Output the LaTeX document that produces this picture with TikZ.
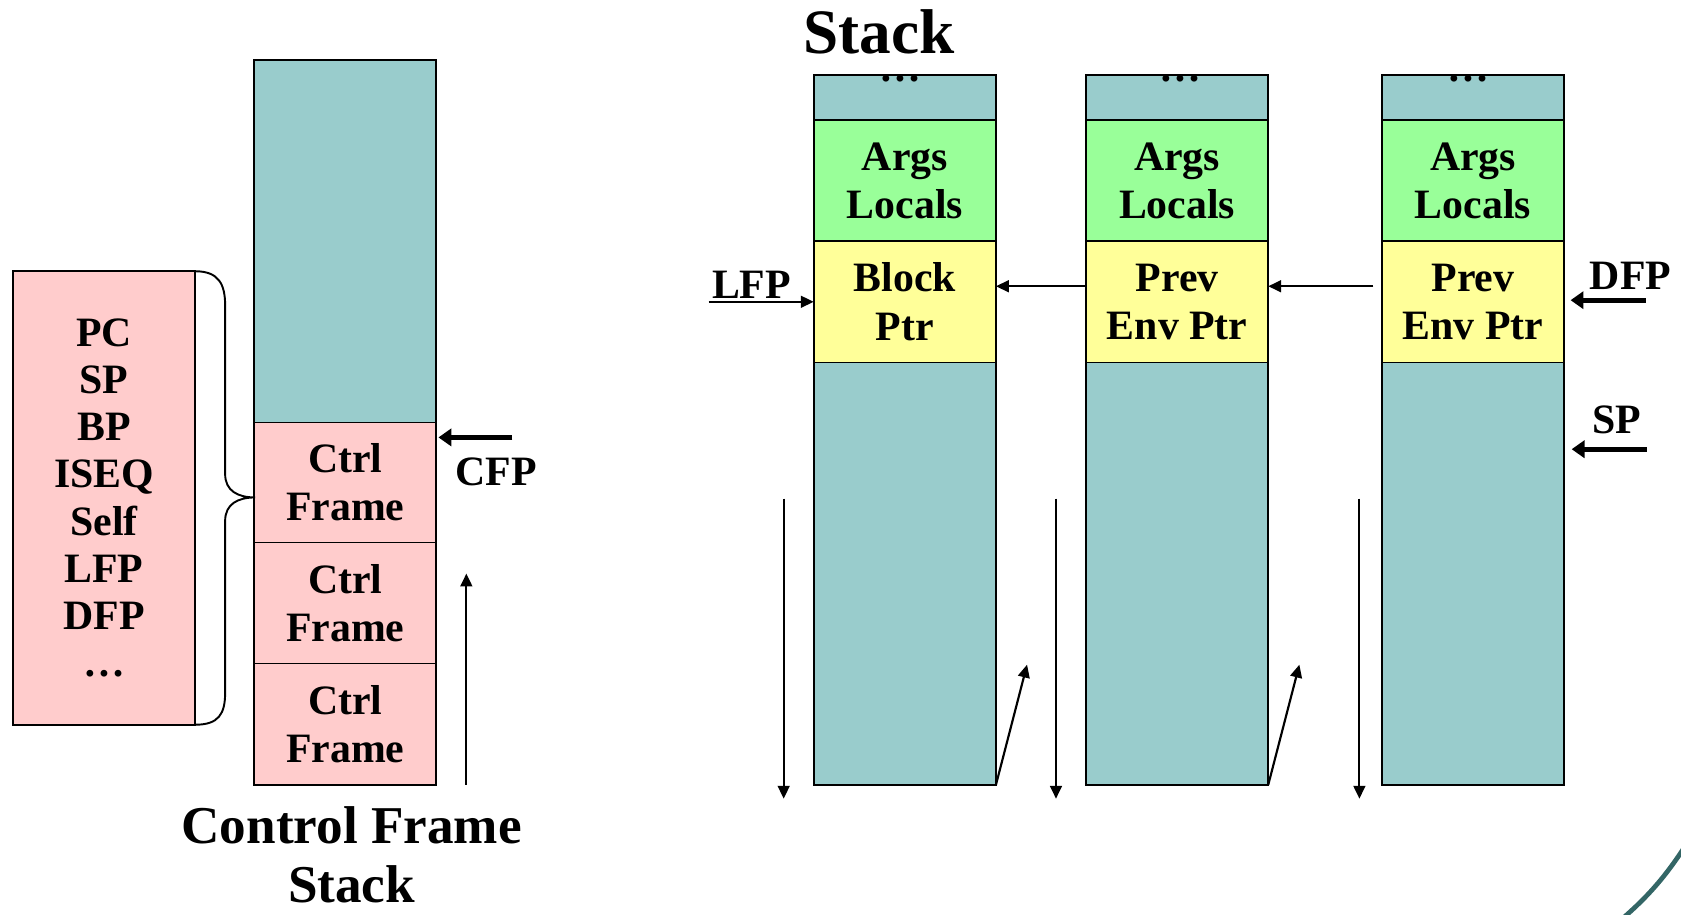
\documentclass[tikz,border=0pt]{standalone}
\usepackage{fontspec}
\setmainfont{Liberation Serif}
\usetikzlibrary{arrows.meta}
\definecolor{tealc}{RGB}{153,204,204}
\definecolor{pinkc}{RGB}{255,204,204}
\definecolor{greenc}{RGB}{153,255,153}
\definecolor{yellowc}{RGB}{255,255,153}
\definecolor{arcc}{RGB}{51,102,102}
\begin{document}
\begin{tikzpicture}[x=0.5pt,y=-0.5pt,
 cell/.style={draw=black, line width=0.8pt, minimum width=85pt, inner sep=0pt, outer sep=0pt, align=center, font=\fontsize{19.5}{22.5}\selectfont\bfseries},
 lbl/.style={font=\fontsize{19.5}{22.5}\selectfont\bfseries, inner sep=0pt},
 dots/.style={lbl, anchor=base, text height=2.4pt, text depth=0pt},
 thinarrow/.style={line width=1pt, -{Triangle[length=6pt,width=5.5pt]}},
 thickarrow/.style={line width=2.2pt, -{Triangle[length=6pt,width=8pt]}}]
\useasboundingbox (0,0) rectangle (1568,853);

% ---------- left: control frame stack ----------
\node[cell, fill=pinkc, minimum height=211.5pt, font=\fontsize{19.5}{22}\selectfont\bfseries] (regs) at (97,464.5) {PC\\SP\\BP\\ISEQ\\Self\\LFP\\DFP\\…};
\node[cell, fill=tealc, minimum height=169pt] (cfs) at (322,225) {};
\node[cell, fill=pinkc, minimum height=56pt] (cf1) at (322,450) {Ctrl\\Frame};
\node[cell, fill=pinkc, minimum height=56.5pt] (cf2) at (322,562.5) {Ctrl\\Frame};
\node[cell, fill=pinkc, minimum height=56.5pt] (cf3) at (322,675.5) {Ctrl\\Frame};

\coordinate (tip) at (238,464);
\draw[line width=0.9pt] (regs.north east) .. controls (204,253) and (210,265) .. (210,285)
  -- (210,442) .. controls (210,458) and (222,464) .. (tip)
  .. controls (222,464) and (210,470) .. (210,486)
  -- (210,646) .. controls (210,666) and (204,676) .. (regs.south east);

\coordinate (cfpS) at (478,408);
\draw[thickarrow, shorten >=1pt] (cfpS) -- (cf1.east |- cfpS);
\node[lbl] (cfp) at (463,440) {CFP};

\coordinate (upS) at (435,732);
\coordinate (upE) at (435,535);
\draw[thinarrow] (upS) -- (upE);

\node[font=\fontsize{24.8}{27.5}\selectfont\bfseries, align=center, inner sep=0pt] (cfstitle) at (328,797) {Control Frame\\Stack};

% ---------- right: stack ----------
\node[font=\fontsize{29.5}{34}\selectfont\bfseries, inner sep=0pt] (title) at (820,30) {Stack};

% column a
\node[cell, fill=tealc, minimum height=21pt] (a0) at (844,91) {};
\node[cell, fill=greenc, minimum height=56.5pt] (a1) at (844,168.5) {Args\\Locals};
\node[cell, fill=yellowc, minimum height=56.5pt] (a2) at (844,281.5) {Block\\Ptr};
\node[cell, fill=tealc, minimum height=197pt] (a3) at (844,535) {};
\node[dots] (ad) at (840,76) {…};
% column b
\node[cell, fill=tealc, minimum height=21pt] (b0) at (1098,91) {};
\node[cell, fill=greenc, minimum height=56.5pt] (b1) at (1098,168.5) {Args\\Locals};
\node[cell, fill=yellowc, minimum height=56.5pt] (b2) at (1098,281.5) {Prev\\Env Ptr};
\node[cell, fill=tealc, minimum height=197pt] (b3) at (1098,535) {};
\node[dots] (bd) at (1101,76) {…};
% column c
\node[cell, fill=tealc, minimum height=21pt] (c0) at (1374,91) {};
\node[cell, fill=greenc, minimum height=56.5pt] (c1) at (1374,168.5) {Args\\Locals};
\node[cell, fill=yellowc, minimum height=56.5pt] (c2) at (1374,281.5) {Prev\\Env Ptr};
\node[cell, fill=tealc, minimum height=197pt] (c3) at (1374,535) {};
\node[dots] (cd) at (1370,76) {…};

% env pointers
\draw[thinarrow] ([yshift=7.25pt]b2.west) -- ([yshift=7.25pt]a2.east);
\draw[thinarrow] ([xshift=-4pt,yshift=7.25pt]c2.west) -- ([yshift=7.25pt]b2.east);

% LFP
\node[lbl, anchor=base] (lfp) at (701,278) {LFP};
\coordinate (lfpS) at (661,281.5);
\draw[thinarrow] (lfpS) -- (a2.west);

% DFP
\node[lbl] (dfp) at (1521,257) {DFP};
\coordinate (dfpS) at (1535,280);
\draw[thickarrow, shorten >=3pt] (dfpS) -- (c2.east |- dfpS);

% SP
\node[lbl] (sp) at (1508,392) {SP};
\coordinate (spS) at (1536,419);
\draw[thickarrow, shorten >=3.5pt] (spS) -- (c3.east |- spS);

% growth arrows
\coordinate (d1s) at (731,465); \coordinate (d1e) at (731,745);
\coordinate (d2s) at (985,465); \coordinate (d2e) at (985,745);
\coordinate (d3s) at (1268,465); \coordinate (d3e) at (1268,745);
\draw[thinarrow] (d1s) -- (d1e);
\draw[thinarrow] (d2s) -- (d2e);
\draw[thinarrow] (d3s) -- (d3e);
\coordinate (g1) at (958,620);
\coordinate (g2) at (1212,620);
\draw[thinarrow] (a3.south east) -- (g1);
\draw[thinarrow] (b3.south east) -- (g2);

% corner decoration
\draw[arcc, line width=2.2pt] (1574,786) .. controls (1556,814) and (1540,834) .. (1512,858);
\end{tikzpicture}
\end{document}
